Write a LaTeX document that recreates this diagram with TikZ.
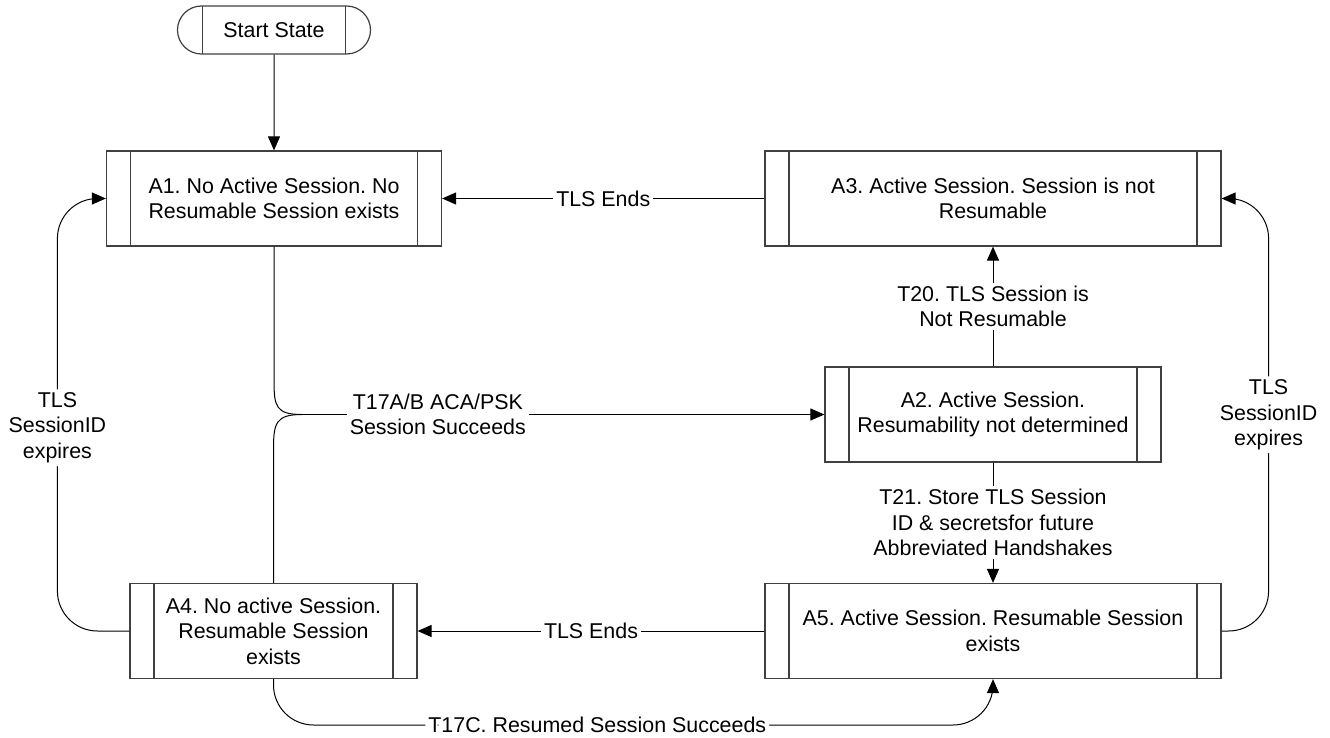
\documentclass[tikz,border=0pt]{standalone}
\usepackage{fontspec}
\setmainfont{Liberation Sans}
\usetikzlibrary{arrows.meta,positioning,shapes.misc}
\definecolor{edgegray}{RGB}{64,64,64}
\frenchspacing

\begin{document}
\begin{tikzpicture}[x=0.5pt,y=-0.5pt,
    every node/.style={font=\fontsize{10.7}{12.8}\selectfont,align=center,text=black},
    sidebars/.style={path picture={\draw[edgegray,line width=0.6pt]
        ([xshift=#1]path picture bounding box.north west)--([xshift=#1]path picture bounding box.south west)
        ([xshift=-#1]path picture bounding box.north east)--([xshift=-#1]path picture bounding box.south east);}},
    state/.style={draw=edgegray,line width=0.6pt,minimum height=47.5pt,inner sep=0pt,sidebars=12pt},
    startbox/.style={rounded rectangle,draw=edgegray,line width=0.6pt,minimum width=96.5pt,
      minimum height=24pt,inner sep=0pt,sidebars=12.5pt},
    flow/.style={draw=black,line width=0.5pt,-{Triangle[length=7pt,width=6pt]}},
    lbl/.style={fill=white,inner sep=1.5pt}]
  \useasboundingbox (0,0) rectangle (1330,738);
  % States
  \node[startbox] (start) at (274,30) {Start State};
  \node[state,minimum width=167.5pt] (a1) at (274,198.5) {A1. No Active Session. No\\Resumable Session exists};
  \node[state,minimum width=228pt] (a3) at (993,198.5) {A3. Active Session. Session is not\\Resumable};
  \node[state,minimum width=168pt] (a2) at (993,414.5) {A2. Active Session.\\Resumability not determined};
  \node[state,minimum width=143.5pt] (a4) at (273.5,631) {A4. No active Session.\\Resumable Session\\exists};
  \node[state,minimum width=228pt] (a5) at (993,631) {A5. Active Session. Resumable Session\\exists};
  \coordinate (join) at (302,414.5);
  \coordinate (bot) at (0,725);
  % Transitions
  \draw[flow] (start) -- (a1);
  \draw[flow] (a3) -- node[lbl]{TLS Ends} (a1);
  \draw[flow] (a5) -- node[lbl]{TLS Ends} (a4);
  \draw[flow] (a2) -- node[lbl]{T20. TLS Session is\\Not Resumable} (a3);
  \draw[flow] (a2) -- node[lbl]{T21. Store TLS Session\\ID \& secretsfor future\\Abbreviated Handshakes} (a5);
  \draw[line width=0.5pt] (a1.south) -- ++(0,134) .. controls +(0,26) and +(-26,0) .. (join);
  \draw[line width=0.5pt] (a4.north) -- ++(0,-134) .. controls +(0,-26) and +(-26,0) .. (join);
  \draw[flow] (join) -- node[lbl,pos=0.26]{T17A/B ACA/PSK\\Session Succeeds} (a2);
  % Expiry loops
  \draw[flow,rounded corners=20] (a4.west) -- ++(-72,0) |- node[lbl,pos=0.235]{TLS\\SessionID\\expires} (a1.west);
  \draw[flow,rounded corners=20] (a5.east) -- ++(47,0) |- node[lbl,pos=0.25]{TLS\\SessionID\\expires} (a3.east);
  \draw[flow,rounded corners=20] (a4.south) |- node[lbl,pos=0.725]{T17C. Resumed Session Succeeds} (a5.south |- bot) -- (a5.south);
\end{tikzpicture}
\end{document}
